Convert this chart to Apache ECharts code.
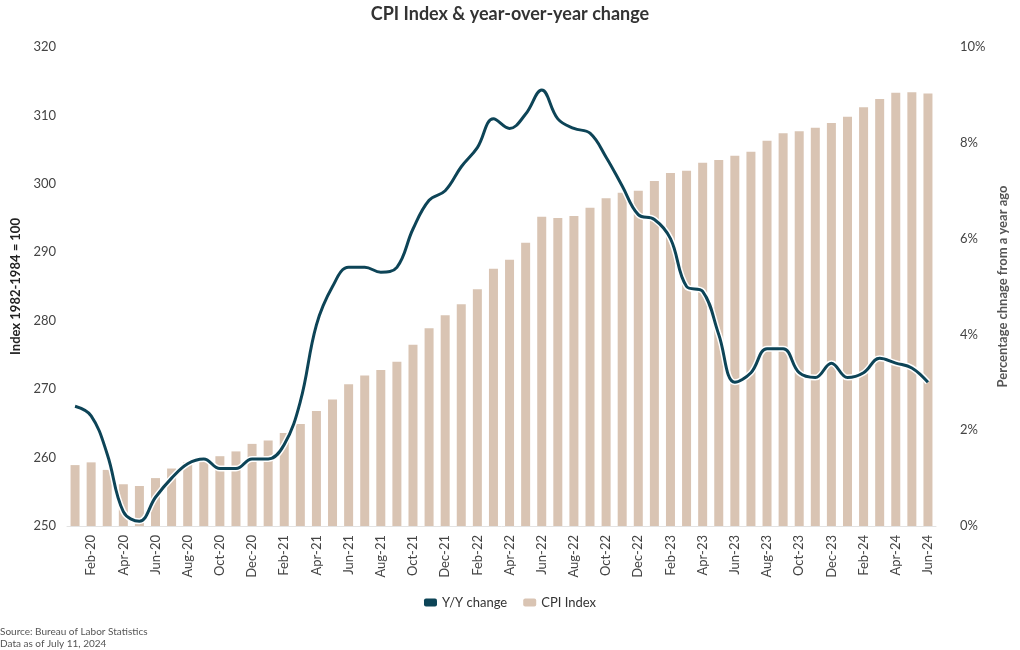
<!DOCTYPE html>
<html>
<head>
<meta charset="utf-8">
<script src="https://cdn.jsdelivr.net/npm/echarts@6/dist/echarts.min.js"></script>
<style>
html,body{margin:0;padding:0;background:#fff;}
#chart{width:1020px;height:650px;}
</style>
</head>
<body>
<div id="chart"></div>
<script>
const months = [
  'Jan-20','Feb-20','Mar-20','Apr-20','May-20','Jun-20','Jul-20','Aug-20','Sep-20','Oct-20','Nov-20','Dec-20',
  'Jan-21','Feb-21','Mar-21','Apr-21','May-21','Jun-21','Jul-21','Aug-21','Sep-21','Oct-21','Nov-21','Dec-21',
  'Jan-22','Feb-22','Mar-22','Apr-22','May-22','Jun-22','Jul-22','Aug-22','Sep-22','Oct-22','Nov-22','Dec-22',
  'Jan-23','Feb-23','Mar-23','Apr-23','May-23','Jun-23','Jul-23','Aug-23','Sep-23','Oct-23','Nov-23','Dec-23',
  'Jan-24','Feb-24','Mar-24','Apr-24','May-24','Jun-24'
];
const cpiIndex = [
  258.9, 259.3, 258.2, 256.1, 255.85, 257.0, 258.4, 259.3, 259.8, 260.2, 260.9, 262.0,
  262.5, 263.6, 264.9, 266.8, 268.5, 270.7, 272.0, 272.8, 274.0, 276.5, 278.9, 280.8,
  282.4, 284.6, 287.6, 288.9, 291.4, 295.2, 295.0, 295.3, 296.5, 297.9, 298.7, 299.0,
  300.4, 301.6, 301.9, 303.1, 303.5, 304.1, 304.7, 306.3, 307.4, 307.7, 308.2, 308.9,
  309.8, 311.2, 312.4, 313.3, 313.4, 313.2
];
const yoyChange = [
  2.5, 2.3, 1.5, 0.3, 0.1, 0.6, 1.0, 1.3, 1.4, 1.2, 1.2, 1.4,
  1.4, 1.7, 2.6, 4.2, 5.0, 5.4, 5.4, 5.3, 5.4, 6.2, 6.8, 7.0,
  7.5, 7.9, 8.5, 8.3, 8.6, 9.1, 8.5, 8.3, 8.2, 7.7, 7.1, 6.5,
  6.4, 6.0, 5.0, 4.9, 4.0, 3.0, 3.2, 3.7, 3.7, 3.2, 3.1, 3.4,
  3.1, 3.2, 3.5, 3.4, 3.3, 3.0
];
const titleText = 'CPI Index & year-over-year change';
const leftAxisName = 'Index 1982-1984 = 100';
const rightAxisName = 'Percentage chnage from a year ago';
const sourceLines = ['Source: Bureau of Labor Statistics', 'Data as of July 11, 2024'];

const FONT = 'Lato, "Open Sans", sans-serif';
const chart = echarts.init(document.getElementById('chart'), null, {renderer: 'canvas'});
chart.setOption({
  backgroundColor: '#ffffff',
  textStyle: {fontFamily: FONT},
  title: [{
    text: titleText,
    left: 'center',
    top: 0,
    textStyle: {fontFamily: FONT, fontSize: 18, fontWeight: 'bold', color: '#333333'}
  }, {
    text: sourceLines.join('\n'),
    left: 0,
    top: 626,
    padding: [0, 0, 0, 0],
    textStyle: {fontFamily: FONT, fontSize: 10, fontWeight: 'normal', color: '#555555', lineHeight: 12}
  }],
  legend: {
    data: [
      {name: 'Y/Y change', icon: 'roundRect'},
      {name: 'CPI Index', icon: 'roundRect'}
    ],
    left: 'center',
    top: 591,
    itemWidth: 13,
    itemHeight: 8,
    itemGap: 16,
    textStyle: {fontFamily: FONT, fontSize: 13, color: '#333333'}
  },
  grid: {left: 67, right: 84, top: 47, bottom: 124},
  xAxis: {
    type: 'category',
    data: months,
    axisLine: {show: true, lineStyle: {color: '#e3e3e3', width: 1}},
    axisTick: {show: false},
    axisLabel: {
      rotate: 90,
      interval: function (i) { return i % 2 === 1; },
      fontFamily: FONT, fontSize: 13, color: '#444444', margin: 9
    },
    splitLine: {show: false}
  },
  yAxis: [{
    type: 'value',
    min: 250, max: 320, interval: 10,
    name: leftAxisName,
    nameLocation: 'middle',
    nameGap: 41,
    nameRotate: 90,
    nameTextStyle: {fontFamily: FONT, fontSize: 13, fontWeight: 'bold', color: '#222222'},
    axisLine: {show: false},
    axisTick: {show: false},
    splitLine: {show: false},
    axisLabel: {fontFamily: FONT, fontSize: 13, color: '#444444', margin: 11}
  }, {
    type: 'value',
    min: 0, max: 10, interval: 2,
    position: 'right',
    name: rightAxisName,
    nameLocation: 'middle',
    nameGap: 58,
    nameRotate: 90,
    nameTextStyle: {fontFamily: FONT, fontSize: 13, fontWeight: 'bold', color: '#555555'},
    axisLine: {show: false},
    axisTick: {show: false},
    splitLine: {show: false},
    axisLabel: {fontFamily: FONT, fontSize: 13, color: '#444444', margin: 24, formatter: '{value}%'}
  }],
  series: [{
    name: 'CPI Index',
    type: 'bar',
    yAxisIndex: 0,
    data: cpiIndex,
    barWidth: 9,
    itemStyle: {color: '#d9c4b3'},
    z: 1
  }, {
    name: 'yoy-outline',
    type: 'line',
    yAxisIndex: 1,
    data: yoyChange,
    smooth: 0.4,
    symbol: 'none',
    silent: true,
    lineStyle: {color: '#ffffff', width: 6},
    z: 2
  }, {
    name: 'Y/Y change',
    type: 'line',
    yAxisIndex: 1,
    data: yoyChange,
    smooth: 0.4,
    symbol: 'none',
    lineStyle: {color: '#0d4457', width: 3},
    itemStyle: {color: '#0d4457'},
    z: 3
  }]
});
</script>
</body>
</html>
